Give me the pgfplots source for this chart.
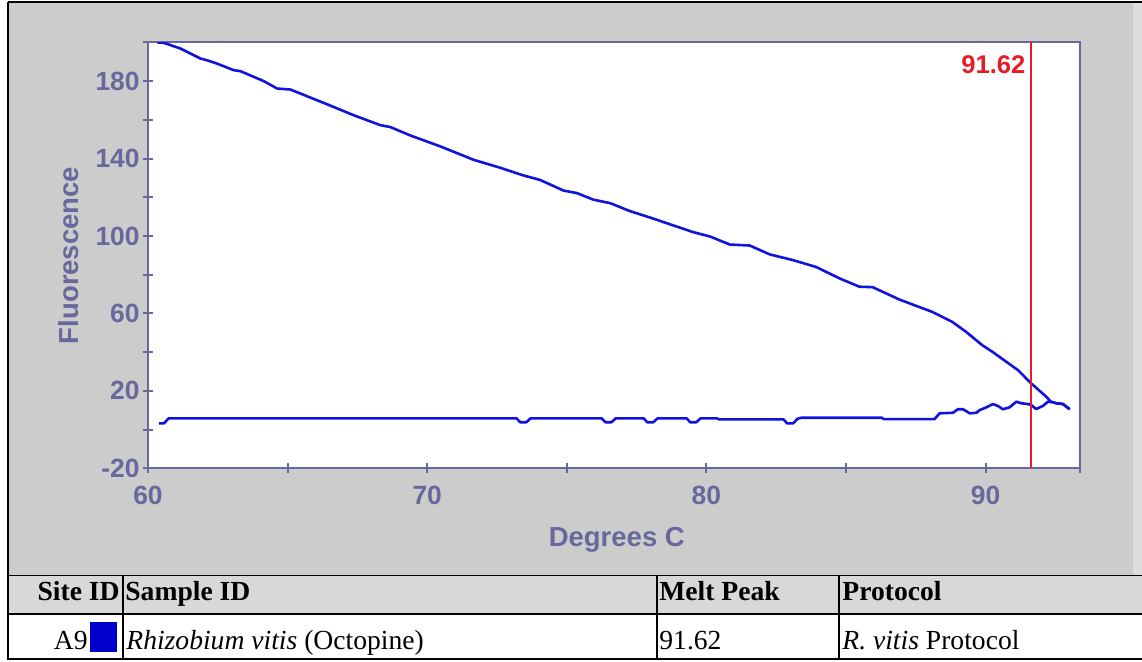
\documentclass[border=0pt]{standalone}
\usepackage{pgfplots}
\pgfplotsset{compat=1.18}
\usepackage{fontspec}
\setmainfont{Liberation Serif}
\newfontfamily\chartfont{Liberation Sans}

\definecolor{panelgrey}{RGB}{204,204,204}
\definecolor{headgrey}{RGB}{216,216,216}
\definecolor{edgegrey}{RGB}{221,221,221}
\definecolor{slate}{RGB}{104,104,156}
\definecolor{curveblue}{RGB}{18,18,222}
\definecolor{peakred}{RGB}{228,30,36}
\definecolor{swatch}{RGB}{0,0,204}

\begin{document}
\begin{tikzpicture}
\useasboundingbox (0,0) rectangle (571pt,331pt);
% panel, frame and result table (pixel grid, y downwards)
\begin{scope}[shift={(0pt,331pt)}, x=0.5pt, y=-0.5pt]
  \fill[white] (0,0) rectangle (1142,662);
  \fill[panelgrey] (9,3) rectangle (1133,576);
  \fill[edgegrey] (1133,3) rectangle (1142,576);
  \fill[headgrey] (9,576) rectangle (1142,614);
  \draw[black, line width=1pt] (8,2.5) -- (1142,2.5);
  \draw[black, line width=1pt] (8.3,2) -- (8.3,660);
  \draw[black, line width=0.5pt] (8,576) -- (1142,576);
  \draw[black, line width=1pt] (8,614) -- (1142,614);
  \draw[black, line width=1pt] (8,659) -- (1142,659);
  \draw[black, line width=1pt] (123,576) -- (123,659);
  \draw[black, line width=1pt] (657,576) -- (657,659);
  \draw[black, line width=1pt] (839,576) -- (839,659);
  \begin{scope}[every node/.style={inner sep=0pt, font=\fontsize{13.8}{16}\selectfont}]
    \node[anchor=base east, font=\fontsize{13.8}{16}\selectfont\bfseries] at (120,601) {Site ID};
    \node[anchor=base west, font=\fontsize{13.8}{16}\selectfont\bfseries] at (125,601) {Sample ID};
    \node[anchor=base west, font=\fontsize{13.8}{16}\selectfont\bfseries] at (659,601) {Melt Peak};
    \node[anchor=base west, font=\fontsize{13.8}{16}\selectfont\bfseries] at (842,601) {Protocol};
    \node[anchor=base east] at (88,650) {A9};
    \fill[swatch] (90,622) rectangle (117,652);
    \node[anchor=base west] at (126,650) {\textit{Rhizobium vitis} (Octopine)};
    \node[anchor=base west] at (659,650) {91.62};
    \node[anchor=base west] at (842,650) {\textit{R. vitis} Protocol};
  \end{scope}
\end{scope}

\begin{axis}[
  at={(74pt,96.85pt)}, anchor=south west,
  scale only axis, width=466pt, height=212.9pt,
  xmin=60, xmax=93.38, ymin=-20, ymax=200,
  axis background/.style={fill=white},
  axis line style={slate, line width=1pt},
  tick align=center, major tick length=5pt, minor tick length=5pt,
  tick style={slate, line width=1pt},
  xtick pos=bottom, ytick pos=left,
  xtick={60,70,80,90}, xticklabels={60,70,80,90},
  minor xtick={65,75,85,93.38},
  ytick={-20,20,60,100,140,180}, yticklabels={-20,20,60,100,140,180},
  minor ytick={0,40,80,120,160,200},
  ticklabel style={font=\chartfont\bfseries\fontsize{13.2}{15}\selectfont, text=slate, inner sep=0pt},
  xticklabel style={yshift=-6pt},
  yticklabel style={xshift=-1.5pt},
  xlabel={Degrees C}, ylabel={Fluorescence},
  label style={font=\chartfont\bfseries\fontsize{13.75}{16}\selectfont, text=slate},
  xlabel style={at={(axis description cs:0.503,-0.169)}, anchor=center},
  ylabel style={at={(axis description cs:-0.0848,0.5)}, anchor=center},
]
% melt curve of the sample
\addplot[curveblue, line width=1.3pt, line join=round] coordinates {
  (60.34,199.9) (60.55,199.9) (61.16,196.9) (61.88,191.7) (62.12,190.8)
  (62.47,189.1) (63.07,185.7) (63.31,185.2) (64.15,180.0) (64.63,176.2)
  (65.10,175.7) (66.41,168.1) (67.37,162.4) (68.32,157.3) (68.68,156.3)
  (69.39,152.0) (70.47,146.3) (71.66,139.4) (72.61,135.3) (73.45,131.3)
  (74.04,129.0) (74.88,123.5) (75.36,122.2) (75.95,118.8) (76.55,117.0)
  (77.26,112.9) (78.10,109.0) (78.81,105.5) (79.53,102.0) (80.12,99.8)
  (80.84,95.6) (81.55,95.1) (82.27,90.5) (83.09,87.6) (83.93,84.0)
  (84.77,78.1) (85.48,73.8) (85.95,73.6) (86.91,67.2) (88.09,60.8)
  (88.81,55.6) (89.30,50.5) (89.88,43.6) (90.24,40.2) (91.16,30.7)
  (91.63,23.9) (92.17,17.0) (92.34,14.4) (92.53,13.6) (92.77,13.2)
  (93.01,10.5)
};
% derivative trace
\addplot[curveblue, line width=1.3pt, line join=round] coordinates {
  (60.39,3.2) (60.57,3.2) (60.74,5.8) (73.20,5.8) (73.33,3.8) (73.55,3.8)
  (73.70,5.8) (76.25,5.8) (76.38,3.8) (76.60,3.8) (76.75,5.8) (77.75,5.8)
  (77.88,3.8) (78.10,3.8) (78.25,5.8) (79.29,5.8) (79.42,3.8) (79.64,3.8)
  (79.79,5.8) (80.38,5.8) (80.45,5.3) (82.76,5.3) (82.89,3.2) (83.11,3.2)
  (83.26,5.6) (83.40,6.1) (86.28,6.1) (86.35,5.4) (88.17,5.4) (88.35,8.4)
  (88.83,8.7) (89.01,10.5) (89.19,10.5) (89.43,8.4) (89.67,8.7) (89.79,10.1)
  (90.03,11.5) (90.26,13.2) (90.44,12.2) (90.62,10.5) (90.86,11.5)
  (91.10,14.4) (91.28,13.6) (91.51,13.2) (91.63,12.7) (91.81,10.6)
  (92.05,12.2) (92.23,14.4) (92.39,14.2) (92.53,13.6) (92.77,13.2)
  (93.01,10.5)
};
% melt peak marker
\addplot[peakred, line width=1pt] coordinates {(91.62,-20) (91.62,200)};
\node[anchor=east, inner sep=0pt, xshift=-2.5pt, text=peakred,
      font=\chartfont\bfseries\fontsize{12.8}{14}\selectfont]
  at (axis cs:91.62,188.3) {91.62};
\end{axis}
\end{tikzpicture}
\end{document}
